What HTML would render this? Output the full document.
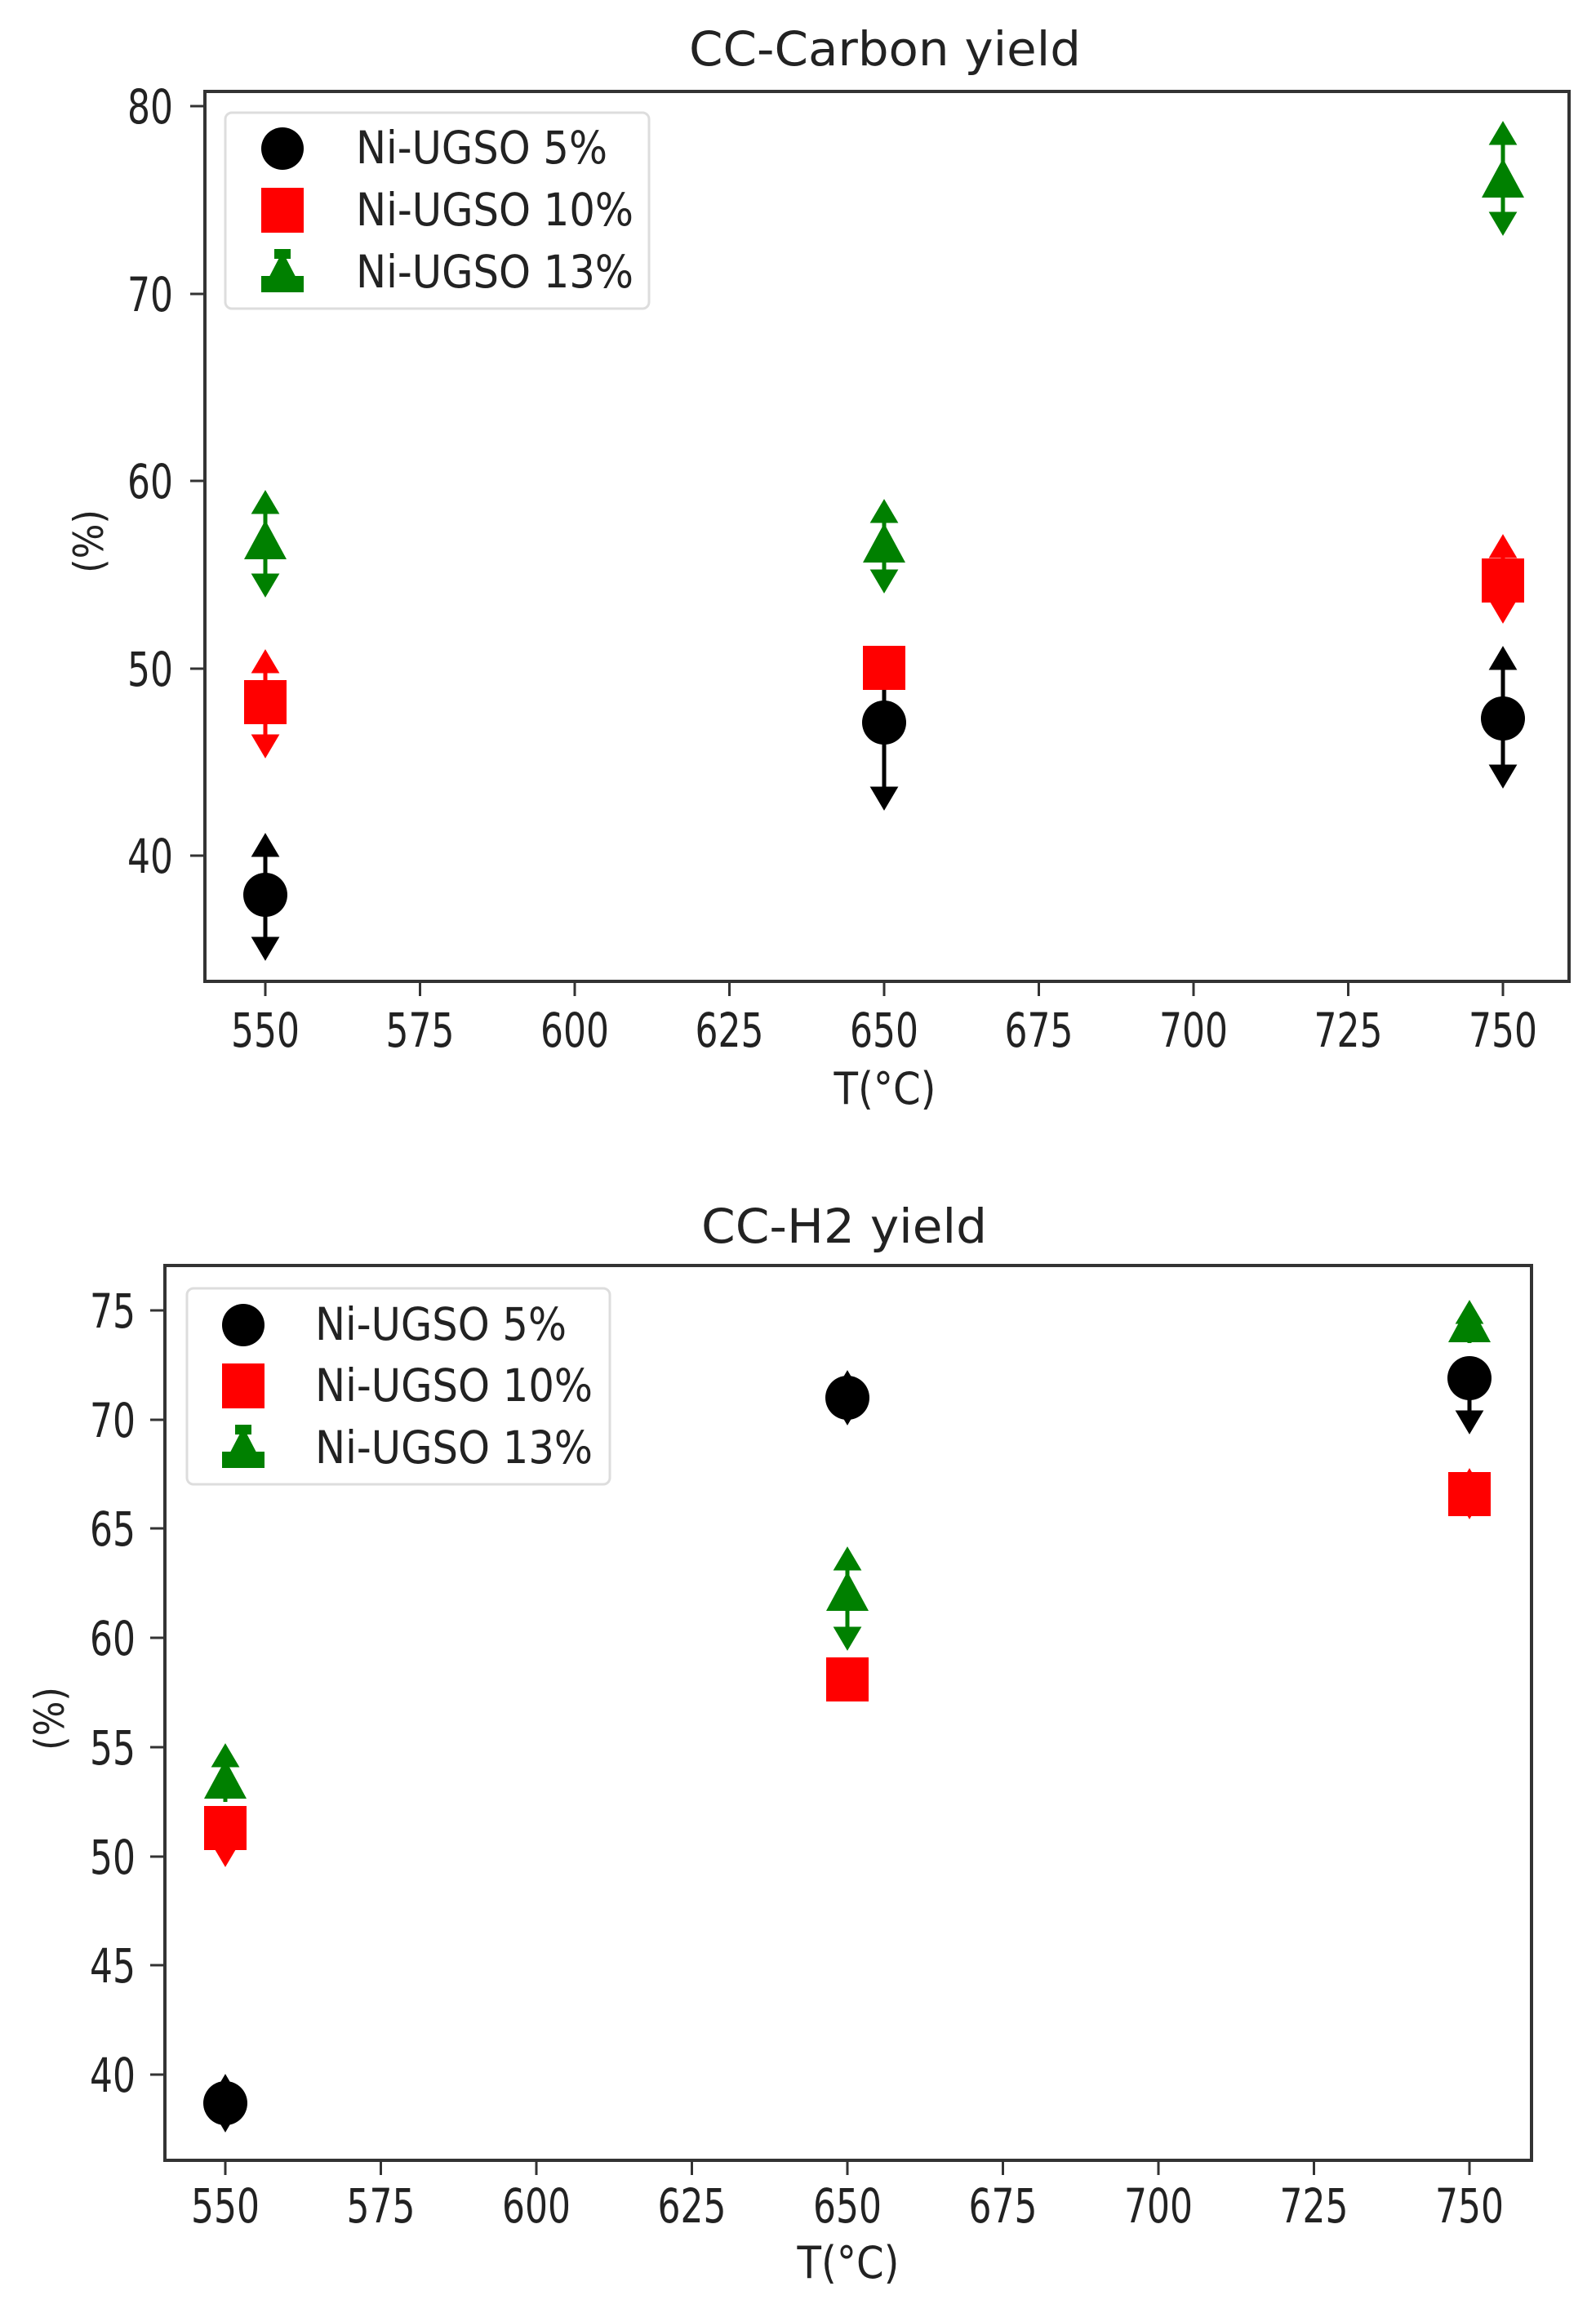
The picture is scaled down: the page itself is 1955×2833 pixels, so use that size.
<!DOCTYPE html>
<html><head><meta charset="utf-8"><style>body{margin:0;background:#fff}svg{display:block}text{font-family:"DejaVu Sans","Liberation Sans",sans-serif;fill:#222}</style></head><body>
<svg width="1955" height="2833" viewBox="0 0 1955 2833" xmlns="http://www.w3.org/2000/svg">
<defs>
<g id="up"><polygon points="-13,22 0,0 13,22"/></g>
<g id="dn"><polygon points="-13,-22 0,0 13,-22"/></g>
</defs>
<!-- TOP PLOT -->
<text x="1084" y="80" font-size="58" text-anchor="middle" textLength="480" lengthAdjust="spacingAndGlyphs">CC-Carbon yield</text>
<rect x="251" y="112" width="1671" height="1090" fill="none" stroke="#333" stroke-width="4"/>
<g stroke="#333" stroke-width="3">
<line x1="325" y1="1202" x2="325" y2="1220"/><line x1="514.5" y1="1202" x2="514.5" y2="1220"/><line x1="704" y1="1202" x2="704" y2="1220"/><line x1="893.5" y1="1202" x2="893.5" y2="1220"/><line x1="1083" y1="1202" x2="1083" y2="1220"/><line x1="1272.5" y1="1202" x2="1272.5" y2="1220"/><line x1="1462" y1="1202" x2="1462" y2="1220"/><line x1="1651.5" y1="1202" x2="1651.5" y2="1220"/><line x1="1841" y1="1202" x2="1841" y2="1220"/>
<line x1="233" y1="130" x2="251" y2="130"/><line x1="233" y1="360" x2="251" y2="360"/><line x1="233" y1="589" x2="251" y2="589"/><line x1="233" y1="819" x2="251" y2="819"/><line x1="233" y1="1048" x2="251" y2="1048"/>
</g>
<g font-size="58" text-anchor="middle">
<text x="325" y="1282" textLength="84" lengthAdjust="spacingAndGlyphs">550</text><text x="514.5" y="1282" textLength="84" lengthAdjust="spacingAndGlyphs">575</text><text x="704" y="1282" textLength="84" lengthAdjust="spacingAndGlyphs">600</text><text x="893.5" y="1282" textLength="84" lengthAdjust="spacingAndGlyphs">625</text><text x="1083" y="1282" textLength="84" lengthAdjust="spacingAndGlyphs">650</text><text x="1272.5" y="1282" textLength="84" lengthAdjust="spacingAndGlyphs">675</text><text x="1462" y="1282" textLength="84" lengthAdjust="spacingAndGlyphs">700</text><text x="1651.5" y="1282" textLength="84" lengthAdjust="spacingAndGlyphs">725</text><text x="1841" y="1282" textLength="84" lengthAdjust="spacingAndGlyphs">750</text>
</g>
<g font-size="58" text-anchor="end">
<text x="212" y="151" textLength="56" lengthAdjust="spacingAndGlyphs">80</text><text x="212" y="381" textLength="56" lengthAdjust="spacingAndGlyphs">70</text><text x="212" y="610" textLength="56" lengthAdjust="spacingAndGlyphs">60</text><text x="212" y="840" textLength="56" lengthAdjust="spacingAndGlyphs">50</text><text x="212" y="1069" textLength="56" lengthAdjust="spacingAndGlyphs">40</text>
</g>
<text x="1084" y="1352" font-size="54" text-anchor="middle" textLength="125" lengthAdjust="spacingAndGlyphs">T(°C)</text>
<text transform="translate(126,663) rotate(-90)" font-size="50" text-anchor="middle" textLength="78" lengthAdjust="spacingAndGlyphs">(%)</text>
<!-- legend top -->
<rect x="276" y="138" width="519" height="240" rx="8" fill="#fff" stroke="#ddd" stroke-width="3"/>
<circle cx="346" cy="182" r="26" fill="#000"/>
<rect x="320" y="230" width="52" height="55" fill="#f00"/>
<g fill="#008000"><polygon points="346,308 320,358 372,358"/><rect x="320" y="338" width="52" height="20"/><rect x="336" y="305" width="20" height="12"/></g>
<g font-size="55"><text x="436" y="200" textLength="308" lengthAdjust="spacingAndGlyphs">Ni-UGSO 5%</text><text x="436" y="276" textLength="340" lengthAdjust="spacingAndGlyphs">Ni-UGSO 10%</text><text x="436" y="352" textLength="340" lengthAdjust="spacingAndGlyphs">Ni-UGSO 13%</text></g>
<!-- series top -->
<g stroke-width="5">
<g stroke="#000" fill="#000">
<line x1="325" y1="1025" x2="325" y2="1172"/><use href="#up" x="325" y="1025"/><use href="#dn" x="325" y="1172"/><circle cx="325" cy="1096" r="27" stroke="none"/>
<line x1="1083" y1="796" x2="1083" y2="988"/><use href="#up" x="1083" y="796"/><use href="#dn" x="1083" y="988"/><circle cx="1083" cy="885" r="27" stroke="none"/>
<line x1="1841" y1="796" x2="1841" y2="961"/><use href="#up" x="1841" y="796"/><use href="#dn" x="1841" y="961"/><circle cx="1841" cy="880" r="27" stroke="none"/>
</g>
<g stroke="#f00" fill="#f00">
<line x1="325" y1="800" x2="325" y2="924"/><use href="#up" x="325" y="800"/><use href="#dn" x="325" y="924"/><rect x="299" y="833" width="52" height="54" stroke="none"/>
<line x1="1083" y1="796" x2="1083" y2="842"/><rect x="1057" y="791" width="52" height="54" stroke="none"/>
<line x1="1841" y1="659" x2="1841" y2="759"/><use href="#up" x="1841" y="659"/><use href="#dn" x="1841" y="759"/><rect x="1815" y="684" width="52" height="54" stroke="none"/>
</g>
<g stroke="#008000" fill="#008000">
<line x1="325" y1="605" x2="325" y2="727"/><use href="#up" x="325" y="605"/><use href="#dn" x="325" y="727"/><polygon points="325,637 299,685 351,685" stroke="none"/>
<line x1="1083" y1="616" x2="1083" y2="722"/><use href="#up" x="1083" y="616"/><use href="#dn" x="1083" y="722"/><polygon points="1083,641 1057,689 1109,689" stroke="none"/>
<line x1="1841" y1="153" x2="1841" y2="284"/><use href="#up" x="1841" y="153"/><use href="#dn" x="1841" y="284"/><polygon points="1841,194 1815,242 1867,242" stroke="none"/>
</g>
</g>

<!-- BOTTOM PLOT -->
<text x="1034" y="1522" font-size="58" text-anchor="middle" textLength="350" lengthAdjust="spacingAndGlyphs">CC-H2 yield</text>
<rect x="202" y="1550" width="1674" height="1096" fill="none" stroke="#333" stroke-width="4"/>
<g stroke="#333" stroke-width="3">
<line x1="276" y1="2646" x2="276" y2="2664"/><line x1="466.5" y1="2646" x2="466.5" y2="2664"/><line x1="657" y1="2646" x2="657" y2="2664"/><line x1="847.5" y1="2646" x2="847.5" y2="2664"/><line x1="1038" y1="2646" x2="1038" y2="2664"/><line x1="1228.5" y1="2646" x2="1228.5" y2="2664"/><line x1="1419" y1="2646" x2="1419" y2="2664"/><line x1="1609.5" y1="2646" x2="1609.5" y2="2664"/><line x1="1800" y1="2646" x2="1800" y2="2664"/>
<line x1="184" y1="1605" x2="202" y2="1605"/><line x1="184" y1="1739" x2="202" y2="1739"/><line x1="184" y1="1872" x2="202" y2="1872"/><line x1="184" y1="2006" x2="202" y2="2006"/><line x1="184" y1="2140" x2="202" y2="2140"/><line x1="184" y1="2274" x2="202" y2="2274"/><line x1="184" y1="2407" x2="202" y2="2407"/><line x1="184" y1="2541" x2="202" y2="2541"/>
</g>
<g font-size="58" text-anchor="middle">
<text x="276" y="2722" textLength="84" lengthAdjust="spacingAndGlyphs">550</text><text x="466.5" y="2722" textLength="84" lengthAdjust="spacingAndGlyphs">575</text><text x="657" y="2722" textLength="84" lengthAdjust="spacingAndGlyphs">600</text><text x="847.5" y="2722" textLength="84" lengthAdjust="spacingAndGlyphs">625</text><text x="1038" y="2722" textLength="84" lengthAdjust="spacingAndGlyphs">650</text><text x="1228.5" y="2722" textLength="84" lengthAdjust="spacingAndGlyphs">675</text><text x="1419" y="2722" textLength="84" lengthAdjust="spacingAndGlyphs">700</text><text x="1609.5" y="2722" textLength="84" lengthAdjust="spacingAndGlyphs">725</text><text x="1800" y="2722" textLength="84" lengthAdjust="spacingAndGlyphs">750</text>
</g>
<g font-size="58" text-anchor="end">
<text x="166" y="1626" textLength="56" lengthAdjust="spacingAndGlyphs">75</text><text x="166" y="1760" textLength="56" lengthAdjust="spacingAndGlyphs">70</text><text x="166" y="1893" textLength="56" lengthAdjust="spacingAndGlyphs">65</text><text x="166" y="2027" textLength="56" lengthAdjust="spacingAndGlyphs">60</text><text x="166" y="2161" textLength="56" lengthAdjust="spacingAndGlyphs">55</text><text x="166" y="2295" textLength="56" lengthAdjust="spacingAndGlyphs">50</text><text x="166" y="2428" textLength="56" lengthAdjust="spacingAndGlyphs">45</text><text x="166" y="2562" textLength="56" lengthAdjust="spacingAndGlyphs">40</text>
</g>
<text x="1039" y="2790" font-size="54" text-anchor="middle" textLength="125" lengthAdjust="spacingAndGlyphs">T(°C)</text>
<text transform="translate(78,2105) rotate(-90)" font-size="50" text-anchor="middle" textLength="78" lengthAdjust="spacingAndGlyphs">(%)</text>
<!-- legend bottom -->
<rect x="229" y="1578" width="518" height="240" rx="8" fill="#fff" stroke="#ddd" stroke-width="3"/>
<circle cx="298" cy="1623" r="26" fill="#000"/>
<rect x="272" y="1670" width="52" height="55" fill="#f00"/>
<g fill="#008000"><polygon points="298,1748 272,1798 324,1798"/><rect x="272" y="1778" width="52" height="20"/><rect x="288" y="1745" width="20" height="12"/></g>
<g font-size="55"><text x="386" y="1641" textLength="308" lengthAdjust="spacingAndGlyphs">Ni-UGSO 5%</text><text x="386" y="1716" textLength="340" lengthAdjust="spacingAndGlyphs">Ni-UGSO 10%</text><text x="386" y="1792" textLength="340" lengthAdjust="spacingAndGlyphs">Ni-UGSO 13%</text></g>
<!-- series bottom -->
<g stroke-width="5">
<g stroke="#000" fill="#000">
<line x1="276" y1="2549" x2="276" y2="2603"/><use href="#up" x="276" y="2545"/><use href="#dn" x="276" y="2607"/><circle cx="276" cy="2576" r="27" stroke="none"/>
<use href="#up" x="1038" y="1683"/><use href="#dn" x="1038" y="1741"/><circle cx="1038" cy="1712" r="27" stroke="none"/>
<line x1="1800" y1="1672" x2="1800" y2="1752"/><use href="#dn" x="1800" y="1752"/><circle cx="1800" cy="1688" r="27" stroke="none"/>
</g>
<g stroke="#f00" fill="#f00">
<line x1="276" y1="2220" x2="276" y2="2282"/><use href="#dn" x="276" y="2282"/><rect x="250" y="2212" width="52" height="54" stroke="none"/>
<rect x="1012" y="2030" width="52" height="54" stroke="none"/><use href="#dn" x="1038" y="2072"/>
<line x1="1841" y1="0" x2="1841" y2="0"/><use href="#up" x="1800" y="1803"/><use href="#dn" x="1800" y="1856"/><rect x="1774" y="1803" width="52" height="54" stroke="none"/>
</g>
<g stroke="#008000" fill="#008000">
<line x1="276" y1="2140" x2="276" y2="2207"/><use href="#up" x="276" y="2140"/><polygon points="276,2155 250,2203 302,2203" stroke="none"/>
<line x1="1038" y1="1899" x2="1038" y2="2017"/><use href="#up" x="1038" y="1899"/><use href="#dn" x="1038" y="2017"/><polygon points="1038,1925 1012,1973 1064,1973" stroke="none"/>
<line x1="1800" y1="1597" x2="1800" y2="1645"/><use href="#up" x="1800" y="1597"/><polygon points="1800,1596 1774,1644 1826,1644" stroke="none"/>
</g>
</g>
</svg>
</body></html>
